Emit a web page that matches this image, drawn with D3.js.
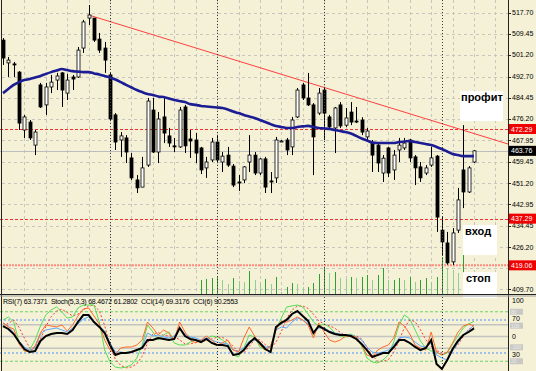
<!DOCTYPE html>
<html><head><meta charset="utf-8">
<script src="https://cdn.jsdelivr.net/npm/d3@7"></script>
<style>
body{margin:0;background:#f4f1d6;}
svg{display:block;font-family:"Liberation Sans",Arial,sans-serif;}
</style></head><body>
<svg id="c" width="536" height="371"></svg>
<script>
// ---------- DATA ----------
const open = [507.0,498.1,497.7,494.5,471.9,475.0,466.0,489.5,481.7,488.7,491.4,494.2,486.3,492.6,492.6,503.9,515.6,515.6,507.4,503.9,493.4,477.8,468.0,468.8,461.0,452.4,449.6,458.2,479.7,463.3,477.0,469.6,465.7,465.3,480.9,468.4,468.0,464.9,457.1,460.2,467.2,459.4,462.1,457.8,451.6,452.4,459.4,462.1,455.1,460.6,452.0,453.2,467.6,468.0,465.3,477.0,489.5,484.4,481.7,478.5,487.5,477.0,472.7,481.7,473.8,478.9,475.4,475.8,469.2,466.8,466.0,455.1,464.9,456.3,464.1,464.9,468.0,461.4,457.5,455.1,458.2,461.7,432.8,427.8,420.4,432.8,456.3,447.7,459.4];
const high = [507.8,500.4,498.5,494.9,477.8,475.8,471.9,490.3,490.3,493.4,494.2,494.5,493.8,493.4,504.3,514.9,520.7,515.6,509.8,506.3,494.2,478.5,471.1,469.9,462.9,454.3,461.4,484.4,484.4,478.9,484.4,472.7,468.8,480.9,481.7,471.9,470.7,465.3,461.4,468.8,469.9,463.3,465.3,458.6,454.3,457.8,469.9,463.3,460.9,461.4,455.5,469.2,468.0,468.8,477.0,488.3,490.3,494.2,482.4,488.3,488.5,477.8,480.9,482.8,480.5,482.8,480.9,476.9,472.7,468.0,467.2,462.1,465.3,464.1,468.8,468.8,468.4,462.1,459.4,458.2,465.3,462.1,437.9,432.1,433.6,449.3,473.8,457.8,464.1];
const low = [497.3,492.6,492.6,471.9,468.8,468.0,462.1,480.5,477.8,486.3,487.5,480.9,483.6,487.5,492.2,502.0,512.9,506.3,502.0,494.2,475.8,464.1,461.4,459.0,452.4,447.3,449.6,457.5,462.9,459.0,466.8,465.3,463.3,464.9,462.9,461.0,459.0,454.7,453.2,459.4,459.0,455.5,457.5,449.6,448.1,451.2,455.5,454.3,454.3,447.3,447.3,451.2,467.2,462.1,462.1,476.6,483.6,481.3,454.3,477.8,468.0,472.7,462.9,472.7,473.1,473.8,474.6,469.9,468.0,455.5,455.5,451.6,453.5,452.4,459.4,464.1,459.4,450.4,451.6,454.3,457.5,432.1,423.1,419.3,419.2,431.7,441.4,447.3,459.0];
const close = [500.0,499.2,497.3,474.6,477.0,468.8,471.1,480.9,488.7,490.6,493.0,487.5,491.4,491.8,503.1,514.1,516.8,507.0,503.1,499.2,476.2,467.2,469.6,463.3,453.2,449.3,457.1,483.2,463.3,476.2,470.7,466.8,465.3,479.7,465.7,467.6,462.9,456.3,459.4,467.2,460.2,461.7,458.2,450.4,451.2,457.5,462.1,455.1,460.6,449.6,451.6,468.0,467.6,464.1,475.8,487.5,484.4,481.7,469.2,486.3,478.5,473.1,480.5,473.5,476.6,475.0,475.2,471.1,471.5,462.1,459.0,460.9,455.1,462.1,466.0,466.8,461.0,457.1,453.2,457.1,461.0,437.9,428.2,420.0,431.7,444.6,447.7,457.1,463.76];
const ma = [486.3,487.9,489.5,490.6,491.4,491.8,492.4,493.0,493.8,494.5,495.1,495.7,495.3,494.9,494.7,494.5,494.5,494.0,493.6,493.0,492.4,491.6,490.6,489.5,488.5,487.5,486.7,486.0,485.6,485.0,484.8,484.2,483.6,483.2,482.8,482.0,481.7,481.3,481.1,480.9,480.7,480.5,479.9,479.1,478.5,477.8,477.2,476.6,475.8,475.0,474.2,473.5,473.1,472.7,472.7,473.1,473.3,473.5,473.1,472.7,472.5,472.3,471.9,471.5,471.1,470.5,469.6,468.6,467.8,467.0,466.8,466.8,466.8,466.8,467.2,467.4,467.6,467.2,466.8,466.4,466.0,465.3,464.5,463.5,462.5,462.1,461.7,461.7,461.7];
const volume = [0,0,0,0,0,0,0,0,0,0,0,0,0,0,0,0,0,0,0,0,0,0,0,0,0,0,0,0,0,0,0,0,0,0,0,0,0,35,37.5,40,42.5,35,25,40,32.5,30,57.5,35,27.5,37.5,25,42.5,5,17.5,27.5,25,17.5,17.5,27.5,50,65,52.5,55,40,37.5,42.5,40,42.5,47.5,35,47.5,65,35,35,40,35,42.5,30,35,40,30,42.5,92.5,65,60,52.5,97.5,50,30];
const rsi = [66.4,62.7,54.2,44.5,37.3,33.6,36.1,53.0,57.9,59.1,60.3,57.9,55.5,60.3,65.2,71.2,73.6,67.6,62.7,56.7,42.1,31.2,31.2,30.0,31.2,33.6,37.3,54.2,50.6,51.8,49.4,48.2,50.6,60.3,53.0,49.4,48.2,45.8,48.2,45.8,43.3,42.1,40.9,33.6,32.4,36.1,44.5,45.8,42.1,37.3,37.3,57.9,61.5,60.3,67.6,72.4,70.0,65.2,55.5,60.3,60.3,56.7,54.2,53.0,51.8,51.8,49.4,45.8,37.3,31.2,30.0,31.2,33.6,39.7,48.2,49.4,48.2,43.3,38.5,37.3,42.1,27.6,23.9,21.5,32.4,42.1,51.8,57.9,63.7];
const stochMain = [70.0,73.6,67.6,43.3,32.4,33.6,45.8,62.7,76.1,82.1,85.8,79.7,72.4,73.6,84.5,88.2,88.2,88.2,67.6,33.6,19.1,13.0,11.8,13.0,15.5,23.9,39.7,63.9,55.5,45.8,51.8,55.5,42.1,39.7,39.7,43.3,45.8,43.3,47.0,50.6,49.4,45.8,40.9,27.6,25.2,36.1,51.8,49.4,37.3,33.6,38.5,57.9,72.4,85.8,87.0,88.2,85.8,77.3,67.6,62.7,65.2,61.5,54.2,50.6,49.4,53.0,49.4,38.5,23.9,19.1,17.9,21.5,27.6,43.3,63.9,76.1,71.2,57.9,44.5,36.1,32.4,31.2,27.6,30.0,40.9,50.6,60.3,65.2,68.5];
const stochSignal = [62,66,70,61,48,36,37,47,62,74,81,83,79,75,77,82,87,88,81,63,40,22,15,12,13,17,26,42,53,55,51,51,50,46,41,41,43,44,45,47,49,49,45,38,31,30,38,46,46,40,36,43,56,72,82,87,87,84,77,69,65,63,60,55,51,51,51,47,37,27,20,20,22,31,45,61,70,68,58,46,38,33,30,30,33,40,50,59,61.3];
const cci14 = [89,64,21,-47,-106,-132,-123,-38,4,21,30,30,21,55,123,182,182,123,81,30,-72,-157,-140,-140,-132,-115,-98,-30,-30,-13,-21,-30,-21,72,4,-21,-30,-47,-21,-55,-72,-72,-81,-157,-148,-115,-55,-13,-55,-106,-132,81,115,140,191,216,174,132,30,89,64,38,21,13,13,4,-21,-64,-115,-174,-157,-140,-140,-89,-30,-30,-55,-89,-115,-98,-30,-233,-276,-199,-106,-38,13,38,69.3];
const cci6 = [115,81,64,-64,-123,-132,-81,30,98,89,81,98,47,98,174,233,242,174,106,-30,-115,-148,-98,-89,-89,-72,-30,123,72,13,55,30,-30,123,38,-30,-55,-30,4,-30,-72,-55,-30,-115,-132,-13,81,4,-72,-115,-81,55,132,123,140,166,140,98,-13,115,38,-30,-47,-30,4,4,-4,-72,-157,-174,-115,-89,-72,-13,123,89,21,-72,-98,-115,38,-132,-157,-132,-55,38,89,106,90.3];
const priceTicks = [517.70,509.45,501.20,492.70,484.45,476.20,467.95,459.45,451.20,442.95,434.45,426.20,417.95,409.70];
const redLevels = [472.29,437.29];
const stopLevel = 419.06;
const bidPrice = 463.76;
const trendStart = {bar:17, price:516.8};
const trendEnd = {bar:95.4, price:466.4};
const separatorBars = [21,41,61,83];
const legendText = "RSI(7) 63.7371  Stoch(5,3,3) 68.4672 61.2802  CCI(14) 69.3176  CCI(6) 90.2553";
const noteTexts = ["профит","вход","стоп"];
const notePrices = [487.1,434.8,416.4];

// ---------- SCALES ----------
const N = close.length;
const bars = d3.range(1, N+1);
const plotR = 508, mainB = 294.5;
const x = d3.scaleLinear().domain([1, N]).range([3, 474]);
const y = d3.scaleLinear().domain([409.70, 517.70]).range([289.3, 12.7]);
const yVol = d3.scaleLinear().domain([0, 100]).range([294, 254]);
const yOsc = d3.scaleLinear().domain([0, 100]).range([377.75, 295.25]);
const yCci = d3.scaleLinear().domain([-350, 350]).range([377.75, 295.25]);

const svg = d3.select("#c");
svg.append("rect").attr("width",536).attr("height",371).attr("fill","#f4f1d6");
const defs = svg.append("defs");
defs.append("clipPath").attr("id","cm").append("rect").attr("x",0).attr("y",0).attr("width",plotR).attr("height",mainB);
defs.append("clipPath").attr("id","ci").append("rect").attr("x",0).attr("y",mainB+1).attr("width",plotR).attr("height",371-mainB);

const main = svg.append("g").attr("clip-path","url(#cm)");
const ind = svg.append("g").attr("clip-path","url(#ci)");

// grid
main.selectAll(".hg").data(priceTicks).join("line")
  .attr("x1",2).attr("x2",plotR).attr("y1",d=>Math.round(y(d))+0.5).attr("y2",d=>Math.round(y(d))+0.5)
  .attr("stroke","#c6c6bc").attr("stroke-dasharray","3,3");
const vGrid = d3.range(5, 97, 4);
main.selectAll(".vg").data(vGrid).join("line")
  .attr("x1",d=>Math.round(x(d))+0.5).attr("x2",d=>Math.round(x(d))+0.5).attr("y1",0).attr("y2",mainB)
  .attr("stroke","#c6c6bc").attr("stroke-dasharray","3,3");

// level lines
main.selectAll(".rl").data(redLevels).join("line")
  .attr("x1",0).attr("x2",plotR).attr("y1",d=>Math.round(y(d))+0.5).attr("y2",d=>Math.round(y(d))+0.5)
  .attr("stroke","#f03030").attr("stroke-dasharray","3,2");
main.append("line").attr("x1",0).attr("x2",plotR).attr("y1",y(stopLevel)).attr("y2",y(stopLevel))
  .attr("stroke","#ff8c80").attr("stroke-width",2).attr("stroke-dasharray","2,1");
main.append("line").attr("x1",0).attr("x2",plotR).attr("y1",Math.round(y(bidPrice))+0.5).attr("y2",Math.round(y(bidPrice))+0.5)
  .attr("stroke","#bdbdbd");

// volumes
main.selectAll(".vol").data(bars.filter(b=>volume[b-1]>0)).join("line")
  .attr("x1",d=>Math.round(x(d))+0.5).attr("x2",d=>Math.round(x(d))+0.5)
  .attr("y1",yVol(0)).attr("y2",d=>yVol(volume[d-1]))
  .attr("stroke",d=> (d>1 && volume[d-1] < volume[d-2]) ? "#8fcf8f" : "#2f9f2f");

// trend line
main.append("line")
  .attr("x1",x(trendStart.bar)).attr("y1",y(trendStart.price))
  .attr("x2",x(trendEnd.bar)).attr("y2",y(trendEnd.price))
  .attr("stroke","#ff4040").attr("stroke-width",1);

// candles
const cg = main.append("g");
cg.selectAll(".wick").data(bars).join("line")
  .attr("x1",d=>Math.round(x(d))+0.5).attr("x2",d=>Math.round(x(d))+0.5)
  .attr("y1",d=>y(high[d-1])).attr("y2",d=>y(low[d-1]))
  .attr("stroke","#000");
cg.selectAll(".body").data(bars).join("rect")
  .attr("x",d=>Math.round(x(d))-1)
  .attr("width",3)
  .attr("y",d=>y(Math.max(open[d-1],close[d-1])))
  .attr("height",d=>Math.max(1,Math.abs(y(open[d-1])-y(close[d-1]))))
  .attr("fill",d=>close[d-1]>=open[d-1]?"#fff":"#000")
  .attr("stroke","#000").attr("stroke-width",0.8);

// moving average
main.append("path").datum(bars)
  .attr("d",d3.line().x(d=>x(d)).y(d=>y(ma[d-1])).curve(d3.curveMonotoneX))
  .attr("fill","none").attr("stroke","#1c1c94").attr("stroke-width",2.6);

// separators (full height)
svg.selectAll(".sep").data(separatorBars).join("line")
  .attr("x1",d=>Math.round(x(d))+0.5).attr("x2",d=>Math.round(x(d))+0.5)
  .attr("y1",0).attr("y2",371)
  .attr("stroke","#3a3a3a").attr("stroke-dasharray","1,2");

// text notes (box top anchored at price)
const noteBoxes = [{x:460,w:43,h:30,tx:461},{x:463,w:34,h:30,tx:465},{x:463,w:34,h:26,tx:466}];
noteTexts.forEach((t,i)=>{
  const b = noteBoxes[i];
  const top = y(notePrices[i]);
  svg.append("rect").attr("x",b.x).attr("y",top).attr("width",b.w).attr("height",b.h).attr("fill","#fff");
  svg.append("text").attr("x",b.tx).attr("y",top+10).text(t)
    .attr("font-size",11).attr("font-weight","bold").attr("fill","#000");
});

// axis
svg.append("line").attr("x1",plotR+0.5).attr("x2",plotR+0.5).attr("y1",0).attr("y2",371).attr("stroke","#222");
svg.append("line").attr("x1",1.5).attr("x2",1.5).attr("y1",0).attr("y2",371).attr("stroke","#222");
svg.append("line").attr("x1",0).attr("x2",536).attr("y1",mainB).attr("y2",mainB).attr("stroke","#222");
svg.append("line").attr("x1",0).attr("x2",536).attr("y1",mainB+1.5).attr("y2",mainB+1.5).attr("stroke","#9a9a9a");
const ag = svg.append("g");
ag.selectAll(".tk").data(priceTicks).join("line")
  .attr("x1",plotR).attr("x2",plotR+3).attr("y1",d=>Math.round(y(d))+0.5).attr("y2",d=>Math.round(y(d))+0.5).attr("stroke","#222");
// the tick label hidden under the stop tag in the reference is not drawn
ag.selectAll(".tl").data(priceTicks.filter(p=>Math.abs(p-stopLevel)>3)).join("text")
  .attr("x",512).attr("y",d=>y(d)+2.5).text(d=>d.toFixed(2))
  .attr("font-size",7).attr("fill","#000");
function tag(price, bg){
  const yy = y(price);
  svg.append("rect").attr("x",509).attr("y",yy-5).attr("width",27).attr("height",10).attr("fill",bg);
  svg.append("text").attr("x",511).attr("y",yy+2.5).text(price.toFixed(2)).attr("font-size",7).attr("fill","#fff");
}
redLevels.forEach(p=>tag(p,"#f00000"));
tag(stopLevel,"#f00000");
tag(bidPrice,"#000");

// ---------- INDICATOR PANEL ----------
const lvl = [
  {v:yOsc(80),c:"#6fd46f",dash:"3,2",w:1.2},
  {v:yOsc(20),c:"#6fd46f",dash:"3,2",w:1.2},
  {v:yOsc(70),c:"#4a90ff",dash:"2,2",w:1},
  {v:yOsc(30),c:"#4a90ff",dash:"2,2",w:1},
  {v:yCci(100),c:"#c4c4c0",dash:null,w:1.5},
  {v:yCci(0),c:"#c4c4c0",dash:null,w:1.5},
  {v:yCci(-100),c:"#c4c4c0",dash:null,w:1.5}
];
lvl.forEach(l=>{
  const ln = ind.append("line").attr("x1",0).attr("x2",plotR).attr("y1",l.v).attr("y2",l.v)
    .attr("stroke",l.c).attr("stroke-width",l.w);
  if(l.dash) ln.attr("stroke-dasharray",l.dash);
});
const series = [
  {arr:stochSignal, sc:yOsc, c:"#ff3a3a", w:1, dash:"2,2"},
  {arr:stochMain, sc:yOsc, c:"#55dd55", w:1, dash:null},
  {arr:rsi, sc:yOsc, c:"#5fa8ff", w:1, dash:null},
  {arr:cci6, sc:yCci, c:"#ff6a2a", w:1, dash:null},
  {arr:cci14, sc:yCci, c:"#000", w:2, dash:null}
];
series.forEach(s=>{
  const p = ind.append("path").datum(bars)
    .attr("d",d3.line().x(d=>x(d)).y(d=>s.sc(s.arr[d-1])))
    .attr("fill","none").attr("stroke",s.c).attr("stroke-width",s.w);
  if(s.dash) p.attr("stroke-dasharray",s.dash);
});
svg.append("text").attr("x",3).attr("y",303.5).attr("xml:space","preserve").text(legendText)
  .attr("font-size",7).attr("fill","#000").attr("textLength",235).attr("lengthAdjust","spacing");

// indicator right labels
svg.append("text").attr("x",512).attr("y",302.5).text("100").attr("font-size",7).attr("fill","#000");
[[yOsc(70)-1.5,"70"],[yCci(0),"0"],[yOsc(30)+1,"30"]].forEach(([yy,t])=>{
  svg.append("text").attr("x",512).attr("y",yy+2.5).text(t).attr("font-size",7).attr("fill","#000");
});
[[yOsc(80),"80"],[yCci(100)+1,"100"],[yCci(-100)-1,"-100"],[yOsc(20),"20"]].forEach(([yy,t])=>{
  svg.append("rect").attr("x",510).attr("y",yy-3).attr("width",13).attr("height",6).attr("fill","#c8c8c4");
  svg.append("text").attr("x",511).attr("y",yy+1.8).text(t).attr("font-size",5).attr("fill","#ececec");
});
</script>
</body></html>
